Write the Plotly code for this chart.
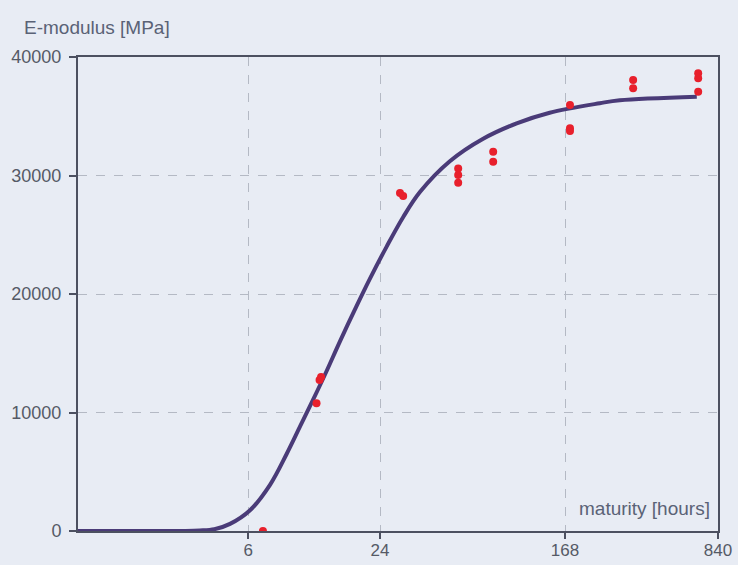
import plotly.graph_objects as go

# Fitted curve
curve_t = [1, 2, 3, 3.6, 4.2, 4.95, 6.11, 7.54, 8.98, 10.33, 11.88, 13.68, 15.74, 18.76,
           21.58, 25.72, 30.63, 36.5, 50, 71, 101, 143, 242, 299, 672]
curve_e = [0, 0, 5, 40, 150, 600, 1750, 3900, 6500, 8800, 11100, 13500, 16000, 19000,
           21300, 24000, 26500, 28600, 31200, 33100, 34400, 35300, 36100, 36350, 36650]

# Measured points
meas_t = [7, 12.3, 12.7, 12.9, 29.6, 30.6, 54.6, 54.6, 54.6, 78.9, 78.9,
          177, 177, 177, 344, 344, 682, 682, 682]
meas_e = [0, 10780, 12740, 13000, 28520, 28270, 30600, 30040, 29390, 32010, 31160,
          35950, 33980, 33760, 38060, 37360, 38620, 38200, 37070]

x_ticks = [6, 24, 168, 840]
y_ticks = [0, 10000, 20000, 30000, 40000]

bg = "#e8ecf4"
axis_col = "#4c5060"
font_fam = "Liberation Sans, Arial, sans-serif"

fig = go.Figure()
fig.add_trace(go.Scatter(x=curve_t, y=curve_e, mode="lines",
                         line=dict(color="#4a3b78", width=4, shape="spline", smoothing=1.0),
                         hoverinfo="skip", showlegend=False))
fig.add_trace(go.Scatter(x=meas_t, y=meas_e, mode="markers",
                         marker=dict(color="#e8202c", size=8),
                         showlegend=False))

fig.update_layout(
    width=738, height=565,
    margin=dict(l=78, r=20, t=57, b=34),
    paper_bgcolor=bg, plot_bgcolor=bg,
    font=dict(family=font_fam, size=18, color="#555a66"),
    xaxis=dict(type="log", range=[0, 2.9243], tickvals=x_ticks,
               ticktext=[str(v) for v in x_ticks], automargin=False,
               tickfont=dict(size=17),
               showline=True, linecolor=axis_col, linewidth=2, mirror=True,
               ticks="outside", ticklen=6, tickcolor=axis_col, tickwidth=1.5,
               showgrid=True, gridcolor="#b4b9c4", griddash="dash", gridwidth=1,
               zeroline=False, ticklabelstandoff=-3),
    yaxis=dict(range=[0, 40000], tickvals=y_ticks,
               ticktext=[str(v) for v in y_ticks], automargin=False,
               showline=True, linecolor=axis_col, linewidth=2, mirror=True,
               ticks="outside", ticklen=7, tickcolor=axis_col, tickwidth=1.5,
               showgrid=True, gridcolor="#b4b9c4", griddash="dash", gridwidth=1,
               zeroline=False, ticklabelstandoff=4),
    annotations=[
        dict(text="E-modulus [MPa]", xref="paper", yref="paper", x=-0.0875, y=1.063,
             xanchor="left", yanchor="middle", showarrow=False,
             font=dict(size=19, color="#5a6276", family=font_fam)),
        dict(text="maturity [hours]", xref="paper", yref="paper", x=0.9906, y=0.0485,
             xanchor="right", yanchor="middle", showarrow=False,
             font=dict(size=19, color="#5a6276", family=font_fam)),
    ],
)

fig.write_html("out.html")
